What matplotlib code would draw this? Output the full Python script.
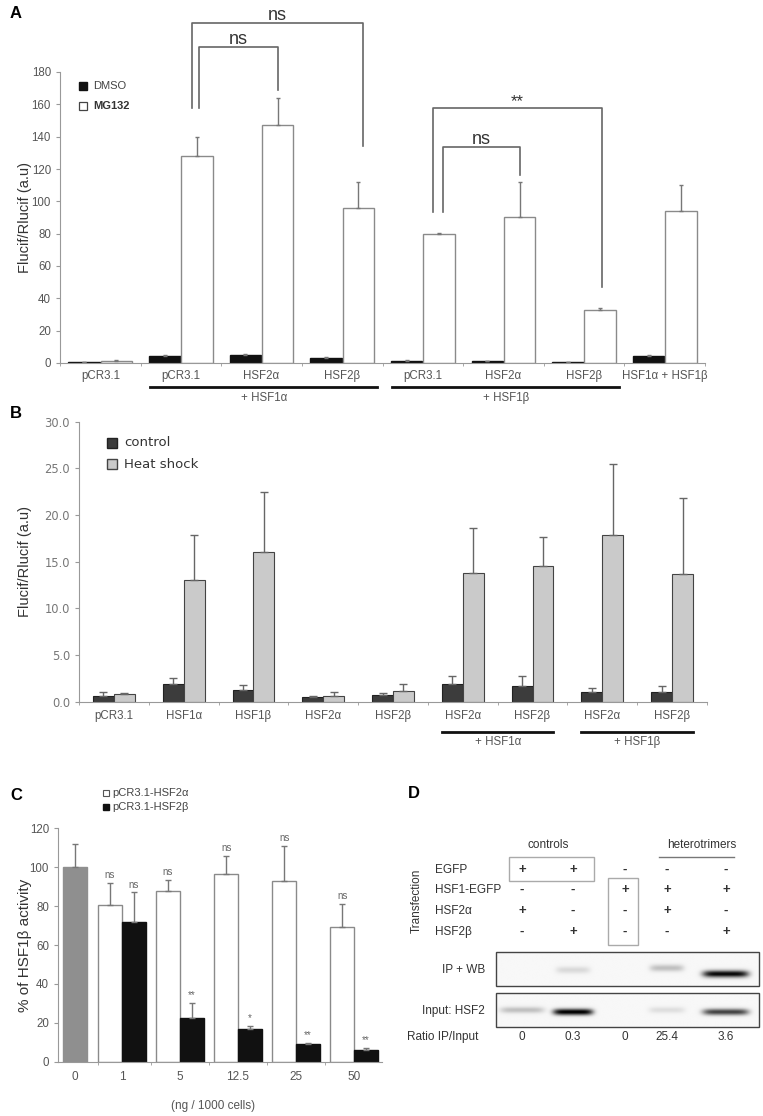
import matplotlib.pyplot as plt
import matplotlib.transforms as mtransforms
from matplotlib.patches import Rectangle
import numpy as np

plt.rcParams['font.family'] = ['Liberation Sans', 'DejaVu Sans']

W, H = 763, 1116

# panel A
a_groups = ['pCR3.1', 'pCR3.1', 'HSF2α', 'HSF2β', 'pCR3.1', 'HSF2α', 'HSF2β', 'HSF1α + HSF1β']
a_dmso = [0.5, 4.5, 5.0, 3.0, 1.5, 1.0, 0.7, 4.5]
a_dmso_err = [0.2, 0.3, 0.4, 0.5, 0.2, 0.2, 0.2, 0.3]
a_mg132 = [1.5, 128, 147, 96, 80, 90, 33, 94]
a_mg132_err = [0.3, 12, 17, 16, 0.5, 22, 1, 16]
# label, x left, x right, top, left leg end, right leg end
a_brackets = [('ns', 1.14, 3.26, 210.5, 157.7, 134.2),
              ('ns', 1.23, 2.20, 195.5, 157.7, 168.9),
              ('**', 4.13, 6.22, 157.7, 93.4, 47.0),
              ('ns', 4.25, 5.21, 133.6, 93.4, 116.3)]

# panel B
b_groups = ['pCR3.1', 'HSF1α', 'HSF1β', 'HSF2α', 'HSF2β', 'HSF2α', 'HSF2β', 'HSF2α', 'HSF2β']
b_control = [0.6, 1.9, 1.3, 0.55, 0.75, 1.85, 1.7, 1.0, 1.0]
b_control_err = [0.4, 0.6, 0.5, 0.1, 0.15, 0.9, 1.05, 0.5, 0.7]
b_heat = [0.8, 13.0, 16.0, 0.65, 1.1, 13.8, 14.5, 17.9, 13.7]
b_heat_err = [0.1, 4.9, 6.5, 0.35, 0.75, 4.8, 3.1, 7.6, 8.1]

# panel C
c_doses = ['0', '1', '5', '12.5', '25', '50']
c_pcr = 100
c_pcr_err = 12
c_hsf2a = [80.5, 88, 96.5, 93, 69.5]
c_hsf2a_err = [11.5, 5.5, 9.5, 18, 11.5]
c_hsf2b = [72, 22.5, 17, 9, 6]
c_hsf2b_err = [15, 7.5, 1.5, 0.5, 1]
c_sig_a = ['ns', 'ns', 'ns', 'ns', 'ns']
c_sig_b = ['ns', '**', '*', '**', '**']

# panel D
d_rows = ['EGFP', 'HSF1-EGFP', 'HSF2α', 'HSF2β']
d_signs = [['+', '+', '-', '-', '-'],
           ['-', '-', '+', '+', '+'],
           ['+', '-', '-', '+', '-'],
           ['-', '+', '-', '-', '+']]
d_ip_band = [0.0, 0.12, 0.0, 0.22, 0.95]
d_input_band = [0.22, 1.0, 0.0, 0.1, 0.72]
d_ratio = ['0', '0.3', '0', '25.4', '3.6']

GREY = '#999999'
TXT = '#555555'


def rect(x0, y0, x1, y1):
    return [x0 / W, 1 - y1 / H, (x1 - x0) / W, (y1 - y0) / H]


def style(ax):
    for s in ['top', 'right']:
        ax.spines[s].set_visible(False)
    for s in ['left', 'bottom']:
        ax.spines[s].set_color(GREY)
    ax.tick_params(colors=GREY, labelcolor=TXT, labelsize=8.3, length=3)
    ax.tick_params(axis='x', length=0)


fig = plt.figure(figsize=(W / 100, H / 100), dpi=100)

# ---------- A ----------
axA = fig.add_axes(rect(60, 72, 705, 363))
xa = np.arange(len(a_groups))
axA.bar(xa - 0.2, a_dmso, 0.39, color='#111111', edgecolor='#111111')
axA.bar(xa + 0.2, a_mg132, 0.39, color='white', edgecolor='#8a8a8a', lw=1)
axA.errorbar(xa - 0.2, a_dmso, yerr=[np.zeros(len(xa)), a_dmso_err], fmt='none',
             ecolor='#777777', elinewidth=1, capsize=1.5)
axA.errorbar(xa + 0.2, a_mg132, yerr=[np.zeros(len(xa)), a_mg132_err], fmt='none',
             ecolor='#777777', elinewidth=1, capsize=1.5)
axA.set_xlim(-0.5, len(a_groups) - 0.5)
axA.set_ylim(0, 180)
axA.set_yticks(range(0, 181, 20))
axA.set_xticks(xa)
axA.set_xticklabels(a_groups)
style(axA)
axA.tick_params(axis='x', pad=5)
axA.set_xticks(np.arange(-0.5, len(a_groups), 1), minor=True)
axA.tick_params(axis='x', which='minor', length=2, color=GREY)
axA.set_ylabel('Flucif/Rlucif (a.u)', fontsize=10.5, color='#333333')
axA.yaxis.set_label_coords((32 - 60) / 645, 0.5)
for lab, xl, xr, top, yl, yr in a_brackets:
    axA.plot([xl, xl, xr, xr], [yl, top, top, yr], color='#666666', lw=1.2, clip_on=False)
    axA.text((xl + xr) / 2, top - 0.8, lab, ha='center', va='bottom',
             fontsize=13 if lab == 'ns' else 12, color='#333333')

# ---------- B ----------
axB = fig.add_axes(rect(79, 421.7, 707, 701.7))
xb = np.arange(len(b_groups))
axB.bar(xb - 0.15, b_control, 0.3, color='#3c3c3c', edgecolor='#222222', lw=0.8)
axB.bar(xb + 0.15, b_heat, 0.3, color='#cacaca', edgecolor='#444444', lw=0.8)
axB.errorbar(xb - 0.15, b_control, yerr=[np.zeros(len(xb)), b_control_err], fmt='none',
             ecolor='#666666', elinewidth=1, capsize=3)
axB.errorbar(xb + 0.15, b_heat, yerr=[np.zeros(len(xb)), b_heat_err], fmt='none',
             ecolor='#666666', elinewidth=1, capsize=3)
axB.set_xlim(-0.5, len(b_groups) - 0.5)
axB.set_ylim(0, 30)
axB.set_yticks(range(0, 31, 5))
axB.set_yticklabels([f'{v:.1f}' for v in range(0, 31, 5)], family='DejaVu Sans',
                    fontsize=8.3)
axB.set_xticks(xb)
axB.set_xticklabels(b_groups)
style(axB)
axB.tick_params(axis='y', labelcolor='#777777')
axB.tick_params(axis='x', pad=6)
axB.set_xticks(np.arange(-0.5, len(b_groups), 1), minor=True)
axB.tick_params(axis='x', which='minor', length=2, color=GREY)
axB.set_ylabel('Flucif/Rlucif (a.u)', fontsize=10.5, color='#333333')
axB.yaxis.set_label_coords((32 - 79) / 628, 0.5)

# ---------- C ----------
axC = fig.add_axes(rect(58, 828.3, 382, 1061.7))
xc = np.array([0, 0.81, 1.81, 2.81, 3.81, 4.81])
bw = 0.41
axC.bar(xc[0], c_pcr, bw, color='#8f8f8f', edgecolor='#8f8f8f')
axC.errorbar(xc[0], c_pcr, yerr=[[0], [c_pcr_err]], fmt='none', ecolor='#777777',
             elinewidth=1, capsize=2)
axC.bar(xc[1:] - bw / 2, c_hsf2a, bw, color='white', edgecolor='#8a8a8a', lw=1)
axC.bar(xc[1:] + bw / 2, c_hsf2b, bw, color='#111111', edgecolor='#111111')
axC.errorbar(xc[1:] - bw / 2, c_hsf2a, yerr=[np.zeros(5), c_hsf2a_err], fmt='none',
             ecolor='#777777', elinewidth=1, capsize=2)
axC.errorbar(xc[1:] + bw / 2, c_hsf2b, yerr=[np.zeros(5), c_hsf2b_err], fmt='none',
             ecolor='#777777', elinewidth=1, capsize=2)
for i in range(5):
    axC.text(xc[i + 1] - bw / 2, c_hsf2a[i] + c_hsf2a_err[i] + 1.5, c_sig_a[i],
             ha='center', va='bottom', fontsize=7, color='#666666')
    axC.text(xc[i + 1] + bw / 2, c_hsf2b[i] + c_hsf2b_err[i] + 1.5, c_sig_b[i],
             ha='center', va='bottom', fontsize=7, color='#666666')
axC.set_xlim(-0.29, 5.29)
axC.set_ylim(0, 120)
axC.set_yticks(range(0, 121, 20))
axC.set_xticks(xc)
axC.set_xticklabels(c_doses)
style(axC)
axC.tick_params(axis='x', pad=7, labelsize=8.5)
axC.set_xticks((xc[:-1] + xc[1:]) / 2, minor=True)
axC.tick_params(axis='x', which='minor', length=2, color=GREY)
axC.set_ylabel('% of HSF1β activity', fontsize=11, color='#333333')
axC.yaxis.set_label_coords((32 - 58) / 324, 0.5)
axC.set_xlabel('(ng / 1000 cells)', fontsize=8.5, color=TXT)
axC.xaxis.set_label_coords((213 - 58) / 324, -0.165)

# ---------- overlay (pixel coords) ----------
ov = fig.add_axes([0, 0, 1, 1])
ov.axis('off')

for lab, x, y in [('A', 10, 14), ('B', 10, 414), ('C', 10, 795), ('D', 408, 793)]:
    ov.text(x, y, lab, fontsize=12, fontweight='bold', va='center', ha='left')

# legend A
ov.plot([83], [86], 's', ms=5.5, color='#111111')
ov.plot([83], [106], 's', ms=5.5, mfc='white', mec='#444444', mew=0.9)
ov.text(93, 86, 'DMSO', fontsize=8, va='center', color='#444444')
ov.text(93, 106, 'MG132', fontsize=8, va='center', fontweight='bold', color='#333333')

# legend B
ov.plot([112], [443], 's', ms=7, color='#3c3c3c', mec='#222222')
ov.plot([112], [464], 's', ms=7, color='#cacaca', mec='#444444')
ov.text(124, 443, 'control', fontsize=9.5, va='center', color='#333333',
        family='DejaVu Sans')
ov.text(124, 464, 'Heat shock', fontsize=9.5, va='center', color='#333333',
        family='DejaVu Sans')

# legend C
ov.plot([106], [793], 's', ms=4, mfc='white', mec='#555555', mew=0.8)
ov.plot([106], [807], 's', ms=4, color='#111111')
ov.text(112, 793, 'pCR3.1-HSF2α', fontsize=8, va='center', color='#444444')
ov.text(112, 807, 'pCR3.1-HSF2β', fontsize=8, va='center', color='#444444')

# underlines A
trA = mtransforms.blended_transform_factory(axA.transData, ov.transData)
for g0, g1, lab in [(1, 3, '+ HSF1α'), (4, 6, '+ HSF1β')]:
    ov.plot([g0 - 0.38, g1 + 0.43], [387, 387], color='#111111', lw=2, transform=trA)
    ov.text((g0 + g1) / 2 + 0.03, 398, lab, ha='center', va='center', fontsize=8.3,
            color=TXT, transform=trA)

# underlines B
trB = mtransforms.blended_transform_factory(axB.transData, ov.transData)
for g0, g1, lab in [(5, 6, '+ HSF1α'), (7, 8, '+ HSF1β')]:
    ov.plot([g0 - 0.3, g1 + 0.3], [732, 732], color='#111111', lw=2, transform=trB)
    ov.text((g0 + g1) / 2, 742, lab, ha='center', va='center', fontsize=8.3,
            color=TXT, transform=trB)

# ---------- D ----------
lanes = [522, 573, 625, 667, 726]
ov.text(548, 845, 'controls', ha='center', va='center', fontsize=8.5, color='#333333')
ov.text(702, 845, 'heterotrimers', ha='center', va='center', fontsize=8.5, color='#333333')
ov.plot([659, 734], [857, 857], color='#777777', lw=1)
row_y = [870, 890, 911, 932]
for r, (name, y) in enumerate(zip(d_rows, row_y)):
    ov.text(435, y, name, ha='left', va='center', fontsize=8.5, color='#333333')
    for lx, s in zip(lanes, d_signs[r]):
        ov.text(lx, y, s, ha='center', va='center', fontsize=9.5, fontweight='bold',
                color='#333333')
ov.text(417, 901, 'Transfection', rotation=90, ha='center', va='center', fontsize=8.5,
        color='#333333')
ov.add_patch(Rectangle((509, 857), 85, 24, fill=False, ec='#aaaaaa', lw=1))
ov.add_patch(Rectangle((608, 878), 30, 67, fill=False, ec='#aaaaaa', lw=1))


def draw_blot(bands, x0, x1, y0, y1, band_y, widths, sig):
    xs = np.linspace(x0, x1, 400)
    ys = np.linspace(y0, y1, 60)
    X, Y = np.meshgrid(xs, ys)
    img = np.full(X.shape, 0.97)
    for lx, b, by, hw in zip(lanes, bands, band_y, widths):
        img -= b * np.exp(-((X - lx) / hw) ** 6) * np.exp(-((Y - by) / sig) ** 2)
    img = np.clip(img, 0, 1)
    ov.imshow(img, extent=(x0, x1, y1, y0), cmap='gray', vmin=0, vmax=1,
              aspect='auto', interpolation='bilinear')
    ov.add_patch(Rectangle((x0, y0), x1 - x0, y1 - y0, fill=False, ec='#444444', lw=1))


draw_blot(d_ip_band, 496, 759, 952, 986, [970, 970, 970, 968, 974],
          [16, 17, 17, 17, 23], 3.5)
draw_blot(d_input_band, 496, 759, 993, 1027, [1010, 1012, 1010, 1010, 1012],
          [22, 20, 17, 18, 23], 3.2)
ov.text(485, 970, 'IP + WB', ha='right', va='center', fontsize=8.5, color='#333333')
ov.text(485, 1011, 'Input: HSF2', ha='right', va='center', fontsize=8.5, color='#333333')
ov.text(407, 1037, 'Ratio IP/Input', ha='left', va='center', fontsize=8.5, color='#333333')
for lx, v in zip(lanes, d_ratio):
    ov.text(lx, 1037, v, ha='center', va='center', fontsize=8.5, color='#333333')

ov.set_xlim(0, W)
ov.set_ylim(H, 0)

fig.savefig('out.png', dpi=100, facecolor='white')
